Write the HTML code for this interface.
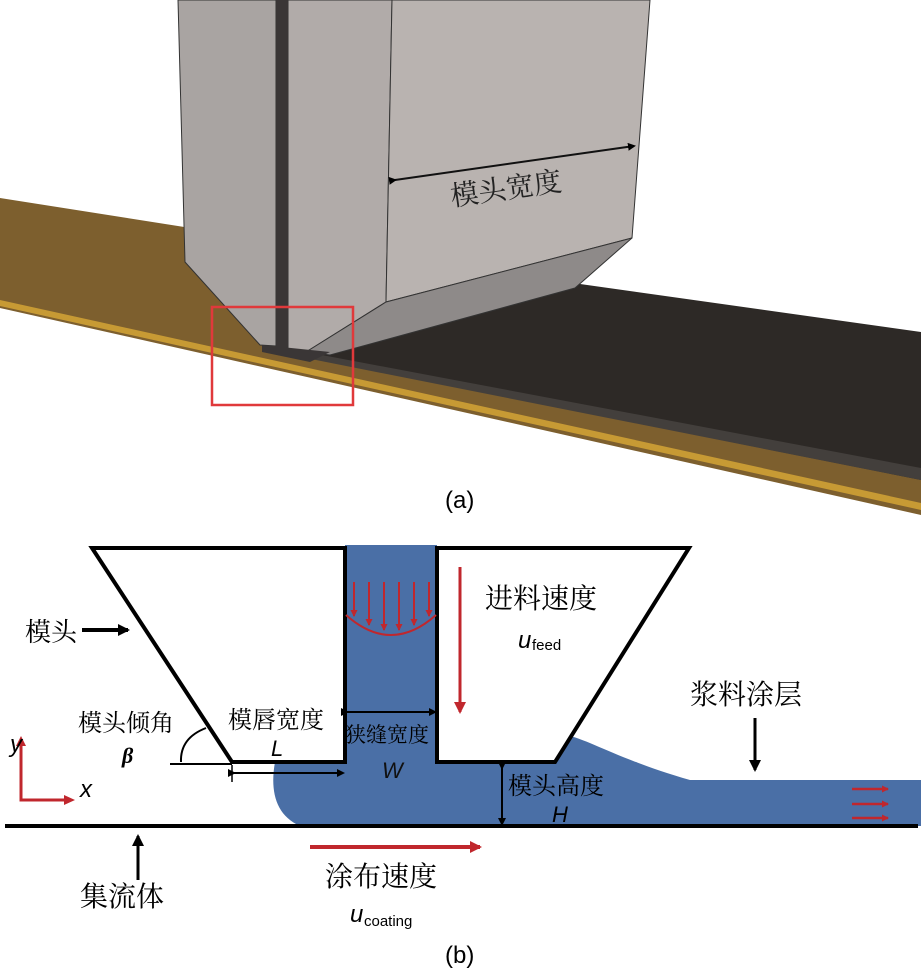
<!DOCTYPE html>
<html><head><meta charset="utf-8"><style>
html,body{margin:0;padding:0;background:#fff;}
svg{display:block;}
text{font-family:"Liberation Serif","Noto Serif CJK SC","Noto Sans CJK SC",serif;}
.s{font-family:"Liberation Sans","Noto Sans CJK SC",sans-serif;}
</style></head><body>
<svg width="921" height="973" viewBox="0 0 921 973" xmlns="http://www.w3.org/2000/svg">
<defs>
<marker id="ab" markerWidth="8" markerHeight="8" refX="6" refY="4" orient="auto" markerUnits="userSpaceOnUse"><path d="M0,0 L8,4 L0,8 z" fill="#000"/></marker>
<marker id="ab2" markerWidth="12" markerHeight="12" refX="10" refY="6" orient="auto" markerUnits="userSpaceOnUse"><path d="M0,0 L12,6 L0,12 z" fill="#000"/></marker>
<marker id="ar" markerWidth="12" markerHeight="12" refX="10" refY="6" orient="auto" markerUnits="userSpaceOnUse"><path d="M0,0 L12,6 L0,12 z" fill="#c0272d"/></marker>
<marker id="ars" markerWidth="7" markerHeight="7" refX="6" refY="3.5" orient="auto" markerUnits="userSpaceOnUse"><path d="M0,0 L7,3.5 L0,7 z" fill="#c0272d"/></marker>
</defs>
<!-- (a) substrate -->
<polygon points="0,198 921,343 921,515 0,308" fill="#7d5f2e"/>
<polygon points="0,300 921,503 921,510 0,306" fill="#c79a34"/>
<!-- coating -->
<polygon points="573,283 921,332 921,480 306,357 330,352" fill="#2d2926"/>
<polygon points="306,352 921,468 921,480 306,358" fill="#433f3c"/>
<!-- die -->
<polygon points="178,0 276,0 276,346 260,345 185,262" fill="#a9a4a2" stroke="#333" stroke-width="1"/>
<polygon points="288,0 392,0 386,302 306,352 288,352" fill="#b1aba9" stroke="#333" stroke-width="1"/>
<polygon points="392,0 650,0 632,238 386,302" fill="#b9b3b0" stroke="#333" stroke-width="1"/>
<polygon points="386,302 632,238 575,288 330,355 306,352" fill="#8e8a89" stroke="#333" stroke-width="1"/>
<rect x="276" y="0" width="12" height="350" fill="#3a3636"/>
<polygon points="262,345 330,352 310,362 262,352" fill="#3a3636"/>
<rect x="212" y="307" width="141" height="98" fill="none" stroke="#e0393b" stroke-width="2.5"/>
<line x1="395" y1="180" x2="634" y2="146" stroke="#111" stroke-width="2" marker-start="url(#ab)" marker-end="url(#ab)"/>
<text x="452" y="206" font-size="28" transform="rotate(-8 452 206)" fill="#222">模头宽度</text>
<text x="445" y="508" class="s" font-size="24">(a)</text>

<!-- (b) fluid -->
<path d="M345,545 L437,545 L437,762 L555,762 L566,735 C590,740 620,760 690,780 L921,780 L921,826 L300,826 C275,815 270,790 275,762 L345,762 Z" fill="#4a6fa6"/>
<!-- dies -->
<polygon points="92,548 345,548 345,762 232,762" fill="#fff" stroke="#000" stroke-width="4" stroke-linejoin="miter"/>
<polygon points="437,548 689,548 555,762 437,762" fill="#fff" stroke="#000" stroke-width="4"/>
<line x1="5" y1="826" x2="918" y2="826" stroke="#000" stroke-width="4"/>
<!-- red slit arrows -->
<g stroke="#c0272d" stroke-width="2">
<line x1="354" y1="582" x2="354" y2="616" marker-end="url(#ars)"/>
<line x1="369" y1="582" x2="369" y2="625" marker-end="url(#ars)"/>
<line x1="384" y1="582" x2="384" y2="630" marker-end="url(#ars)"/>
<line x1="399" y1="582" x2="399" y2="630" marker-end="url(#ars)"/>
<line x1="414" y1="582" x2="414" y2="625" marker-end="url(#ars)"/>
<line x1="429" y1="582" x2="429" y2="616" marker-end="url(#ars)"/>
<path d="M346,615 Q391,655 436,615" fill="none"/>
</g>
<line x1="460" y1="567" x2="460" y2="712" stroke="#c0272d" stroke-width="3" marker-end="url(#ar)"/>
<text x="485" y="608" font-size="28">进料速度</text>
<text x="518" y="648" class="s" font-size="24" font-style="italic">u</text><text x="532" y="650" class="s" font-size="15">feed</text>
<text x="25" y="641" font-size="26">模头</text>
<line x1="82" y1="630" x2="128" y2="630" stroke="#000" stroke-width="4" marker-end="url(#ab2)"/>
<text x="78" y="731" font-size="24">模头倾角</text>
<text x="122" y="763" font-size="22" font-style="italic" font-weight="bold">β</text>
<path d="M181,762 Q180,738 206,728" fill="none" stroke="#000" stroke-width="2"/>
<line x1="170" y1="764" x2="232" y2="764" stroke="#000" stroke-width="2"/>
<text x="228" y="728" font-size="24">模唇宽度</text>
<text x="271" y="756" class="s" font-size="22" font-style="italic">L</text>
<line x1="234" y1="773" x2="343" y2="773" stroke="#000" stroke-width="2" marker-start="url(#ab)" marker-end="url(#ab)"/>
<line x1="232" y1="765" x2="232" y2="782" stroke="#000" stroke-width="1.5"/>
<line x1="347" y1="712" x2="435" y2="712" stroke="#000" stroke-width="2" marker-start="url(#ab)" marker-end="url(#ab)"/>
<text x="345" y="742" font-size="21">狭缝宽度</text>
<text x="382" y="778" class="s" font-size="22" font-style="italic" fill="#111">W</text>
<line x1="502" y1="768" x2="502" y2="824" stroke="#000" stroke-width="2" marker-start="url(#ab)" marker-end="url(#ab)"/>
<text x="508" y="794" font-size="24">模头高度</text>
<text x="552" y="822" class="s" font-size="22" font-style="italic">H</text>
<text x="690" y="704" font-size="28">浆料涂层</text>
<line x1="755" y1="718" x2="755" y2="770" stroke="#000" stroke-width="3" marker-end="url(#ab2)"/>
<g stroke="#c0272d" stroke-width="2.5">
<line x1="852" y1="789" x2="888" y2="789" marker-end="url(#ars)"/>
<line x1="852" y1="804" x2="888" y2="804" marker-end="url(#ars)"/>
<line x1="852" y1="818" x2="888" y2="818" marker-end="url(#ars)"/>
</g>
<polyline points="21,742 21,800 66,800" fill="none" stroke="#c0272d" stroke-width="3"/>
<path d="M16,746 L21,736 L26,746 z" fill="#c0272d"/><path d="M64,795 L75,800 L64,805 z" fill="#c0272d"/>
<text x="10" y="752" class="s" font-size="24" font-style="italic">y</text>
<text x="80" y="797" class="s" font-size="24" font-style="italic">x</text>
<line x1="138" y1="880" x2="138" y2="836" stroke="#000" stroke-width="3" marker-end="url(#ab2)"/>
<text x="80" y="906" font-size="28">集流体</text>
<line x1="310" y1="847" x2="480" y2="847" stroke="#c0272d" stroke-width="4" marker-end="url(#ar)"/>
<text x="325" y="886" font-size="28">涂布速度</text>
<text x="350" y="922" class="s" font-size="24" font-style="italic">u</text><text x="364" y="926" class="s" font-size="15">coating</text>
<text x="445" y="963" class="s" font-size="24">(b)</text>
</svg>
</body></html>
